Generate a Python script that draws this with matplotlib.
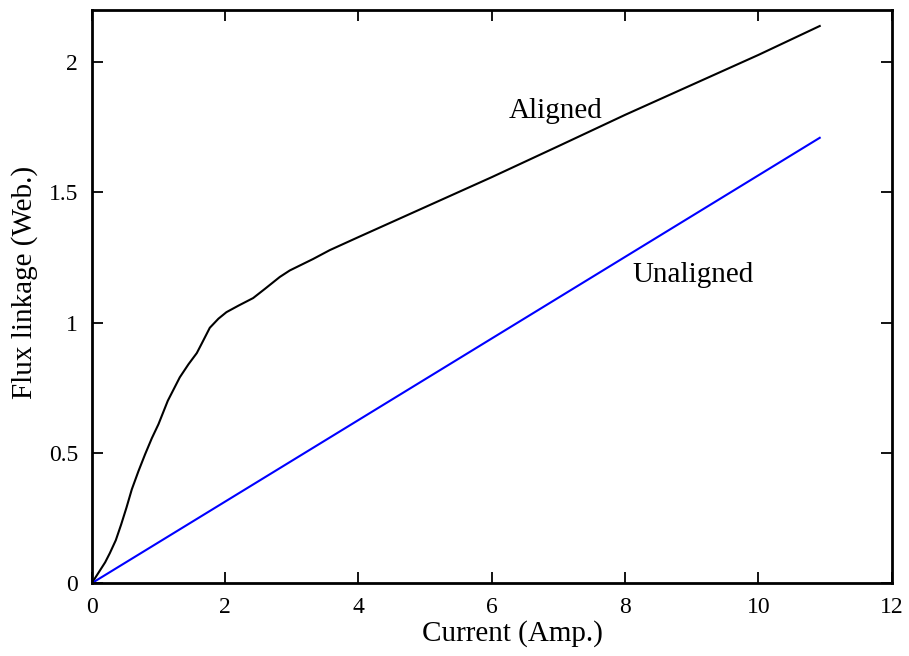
import numpy as np
import matplotlib
matplotlib.use("Agg")
import matplotlib.pyplot as plt

plt.rcParams["font.family"] = ["Liberation Serif", "DejaVu Serif"]

# Flux linkage vs. current for the aligned rotor position
current_aligned = [0.0, 0.1, 0.2, 0.27, 0.36, 0.44, 0.52, 0.6, 0.7, 0.8, 0.9,
                   1.0, 1.14, 1.32, 1.45, 1.575, 1.65, 1.77, 1.9, 2.02, 2.2,
                   2.42, 2.6, 2.82, 2.97, 3.32, 3.57, 4.0, 5.0, 6.0, 7.0, 8.0,
                   9.0, 10.0, 10.92]
flux_aligned = [0.0, 0.04, 0.08, 0.115, 0.165, 0.225, 0.29, 0.36, 0.43, 0.495, 0.556,
                0.61, 0.70, 0.79, 0.84, 0.883, 0.92, 0.98, 1.015, 1.04, 1.065,
                1.094, 1.13, 1.175, 1.20, 1.244, 1.278, 1.328, 1.443, 1.558, 1.677, 1.797,
                1.912, 2.027, 2.138]

# Unaligned position is essentially linear
current_unaligned = [0.0, 10.92]
flux_unaligned = [0.0, 1.709]

fig = plt.figure(figsize=(9.09, 6.56), dpi=100)
ax = fig.add_axes([0.101, 0.111, 0.880, 0.874])

ax.plot(current_aligned, flux_aligned, color="black", lw=1.5)
ax.plot(current_unaligned, flux_unaligned, color="blue", lw=1.5)

ax.text(6.95, 1.785, "Aligned", fontsize=21, ha="center", va="baseline")
ax.text(9.02, 1.156, "Unaligned", fontsize=21, ha="center", va="baseline")

ax.set_xlim(0, 12)
ax.set_ylim(0, 2.2)
ax.set_xticks([0, 2, 4, 6, 8, 10, 12])
ax.set_yticks([0, 0.5, 1, 1.5, 2])
ax.set_xticklabels(["0", "2", "4", "6", "8", "10", "12"])
ax.set_yticklabels(["0", "0.5", "1", "1.5", "2"])
ax.tick_params(direction="in", length=8, width=1.3, top=True, right=True,
               labelsize=17, pad=10)
for s in ax.spines.values():
    s.set_linewidth(2)

ax.set_xlabel("Current (Amp.)", fontsize=21)
ax.set_ylabel("Flux linkage (Web.)", fontsize=21)
ax.xaxis.set_label_coords(0.526, -0.064)
ax.yaxis.set_label_coords(-0.0675, 0.524)

fig.savefig("out.png", dpi=100)
